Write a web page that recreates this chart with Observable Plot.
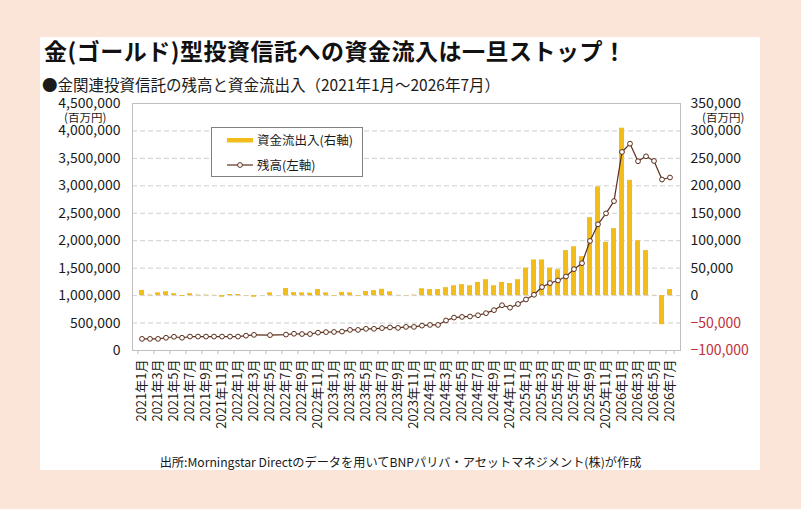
<!DOCTYPE html>
<html>
<head>
<meta charset="utf-8">
<script src="https://cdn.jsdelivr.net/npm/d3@7"></script>
<script src="https://cdn.jsdelivr.net/npm/@observablehq/plot@0.6"></script>
<style>
  html, body { margin: 0; padding: 0; }
  body {
    width: 801px; height: 509px; background: #fbe4d8; position: relative; overflow: hidden;
    font-family: "Noto Sans CJK JP", "Noto Sans", sans-serif; color: #1a1a1a;
  }
  #panel { position: absolute; left: 40px; top: 37px; width: 720px; height: 433px; background: #ffffff; }
  .abs { position: absolute; white-space: nowrap; }
  #title { left: 44px; top: 35px; font-size: 23px; line-height: 30px; font-weight: bold; letter-spacing: 0.5px; color: #111; }
  #subtitle { left: 42px; top: 76px; font-size: 15.5px; line-height: 16px; color: #1a1a1a; }
  #unitL { left: 64px; top: 111px; font-size: 11.5px; line-height: 12px; }
  #unitR { left: 702px; top: 111px; font-size: 11.5px; line-height: 12px; }
  #caption { left: 0; width: 801px; text-align: center; top: 455px; font-size: 12.2px; line-height: 14px; }
  #chart { position: absolute; left: 0; top: 90px; }
  #legend { position: absolute; left: 211px; top: 127px; width: 150px; height: 48px; border: 1px solid #808080; background: #fff; }
  .lg-item { position: absolute; left: 15px; height: 20px; font-size: 12.5px; }
  .lg-text { position: absolute; left: 30px; top: 0; line-height: 20px; white-space: nowrap; }
</style>
</head>
<body>
<div id="panel"></div>
<div id="title" class="abs">金(ゴールド)型投資信託への資金流入は一旦ストップ！</div>
<div id="subtitle" class="abs">●金関連投資信託の残高と資金流出入（2021年1月～2026年7月）</div>
<div id="chart"></div>
<div id="unitL" class="abs">(百万円)</div>
<div id="unitR" class="abs">(百万円)</div>
<div id="legend">
  <div class="lg-item" style="top:2px;">
    <svg width="28" height="20" style="position:absolute;left:0;top:0"><rect x="0" y="8" width="26" height="4.5" fill="#F2BC1B"/></svg>
    <div class="lg-text">資金流出入(右軸)</div>
  </div>
  <div class="lg-item" style="top:27px;">
    <svg width="28" height="20" style="position:absolute;left:0;top:0"><line x1="0" x2="26" y1="10" y2="10" stroke="#5c2f1c" stroke-width="1.2"/><circle cx="13" cy="10" r="2.4" fill="#fff" stroke="#5c2f1c" stroke-width="1"/></svg>
    <div class="lg-text">残高(左軸)</div>
  </div>
</div>
<div id="caption" class="abs">出所:Morningstar Directのデータを用いてBNPパリバ・アセットマネジメント(株)が作成</div>

<script>
// ---- Data (百万円) ----
const months = [
  "2021年1月","2021年2月","2021年3月","2021年4月","2021年5月","2021年6月","2021年7月","2021年8月","2021年9月","2021年10月","2021年11月","2021年12月",
  "2022年1月","2022年2月","2022年3月","2022年4月","2022年5月","2022年6月","2022年7月","2022年8月","2022年9月","2022年10月","2022年11月","2022年12月",
  "2023年1月","2023年2月","2023年3月","2023年4月","2023年5月","2023年6月","2023年7月","2023年8月","2023年9月","2023年10月","2023年11月","2023年12月",
  "2024年1月","2024年2月","2024年3月","2024年4月","2024年5月","2024年6月","2024年7月","2024年8月","2024年9月","2024年10月","2024年11月","2024年12月",
  "2025年1月","2025年2月","2025年3月","2025年4月","2025年5月","2025年6月","2025年7月","2025年8月","2025年9月","2025年10月","2025年11月","2025年12月",
  "2026年1月","2026年2月","2026年3月","2026年4月","2026年5月","2026年6月","2026年7月"
];
// 資金流出入 (right axis)
const flows = [
  9500, 1000, 5000, 7000, 3500, -1500, 3500, 1000, 1000, 500, -3000, 2000,
  2000, -500, -3000, null, 5000, null, 13000, 5500, 5000, 4500, 11000, 5000,
  -1000, 6000, 5000, -1000, 7500, 9000, 11500, 7000, 500, -500, 1000, 12500,
  11000, 11000, 14500, 18000, 20000, 18000, 24000, 29000, 18000, 24000, 22000, 29000,
  50000, 65000, 65000, 50000, 47000, 82000, 89000, 71000, 142000, 198000, 97000, 122000,
  305000, 210000, 100000, 82000, 500, -53000, 11000
];
// 残高 (left axis)
const balance = [
  212000, 212000, 212000, 232000, 250000, 232000, 254000, 254000, 254000, 254000, 254000, 254000,
  254000, 270000, 285000, null, 280000, null, 290000, 305000, 300000, 300000, 325000, 335000,
  338000, 345000, 375000, 375000, 395000, 395000, 408000, 420000, 412000, 430000, 430000, 453000,
  466000, 466000, 547000, 600000, 612000, 620000, 642000, 680000, 735000, 825000, 780000, 847000,
  930000, 1015000, 1156000, 1228000, 1276000, 1348000, 1482000, 1591000, 1996000, 2299000, 2498000, 2722000,
  3617000, 3768000, 3448000, 3538000, 3453000, 3115000, 3152000
];
const leftTicks = [0, 500000, 1000000, 1500000, 2000000, 2500000, 3000000, 3500000, 4000000, 4500000];
const rightTicks = [-100000, -50000, 0, 50000, 100000, 150000, 200000, 250000, 300000, 350000];

// map right-axis value onto left-axis scale
const toLeft = v => (v + 100000) * 10;
const fromLeft = v => v / 10 - 100000;
const fmt = d3.format(",");

const rows = months.map((m, i) => ({ month: m, flow: flows[i], bal: balance[i], idx: i }));
const flowRows = rows.filter(d => d.flow != null);
const balRows = rows.filter(d => d.bal != null);
const xLabels = months.filter((d, i) => i % 2 === 0);

const BROWN = "#5c2f1c";
const GOLD = "#F2BC1B";

const chart = Plot.plot({
  width: 801,
  height: 345,
  marginLeft: 132,
  marginRight: 121,
  marginTop: 13,
  marginBottom: 85,
  style: { fontFamily: '"Noto Sans CJK JP", "Noto Sans", sans-serif', fontSize: "14px", color: "#1a1a1a", background: "transparent" },
  x: { type: "band", domain: months, paddingInner: 0.35, paddingOuter: 0.175, label: null },
  y: { domain: [0, 4500000], label: null },
  marks: [
    Plot.ruleY(leftTicks.slice(1, -1), { stroke: "#cfcfcf", strokeDasharray: "5,3" }),
    Plot.barY(flowRows, { x: "month", y1: () => toLeft(0), y2: d => toLeft(d.flow), fill: GOLD }),
    Plot.line(balRows, { x: "month", y: "bal", stroke: BROWN, strokeWidth: 1.2 }),
    Plot.dot(balRows, { x: "month", y: "bal", r: 2.4, fill: "#fff", stroke: BROWN, strokeWidth: 1 }),
    Plot.frame({ stroke: "#bfbfbf" }),
    Plot.ruleX(xLabels, { x: d => d, y1: 0, y2: -75000, dx: -4.1, stroke: "#bfbfbf" }),
    Plot.ruleX([months[months.length - 1]], { x: d => d, y1: 0, y2: -75000, dx: 4.1, stroke: "#bfbfbf" }),
    Plot.axisY(leftTicks, { anchor: "left", tickSize: 0, tickPadding: 12, tickFormat: fmt, fontSize: 14, label: null }),
    Plot.axisY(rightTicks.filter(v => v >= 0).map(toLeft), { anchor: "right", tickSize: 0, tickPadding: 10, tickFormat: v => fmt(fromLeft(v)), fontSize: 14, label: null }),
    Plot.axisY(rightTicks.filter(v => v < 0).map(toLeft), { anchor: "right", tickSize: 0, tickPadding: 10, tickFormat: v => fmt(fromLeft(v)), fontSize: 14, fill: "#c0303a", label: null }),
    Plot.axisX(xLabels, { anchor: "bottom", tickSize: 0, tickPadding: 9, tickRotate: -90, fontSize: 13, label: null })
  ]
});
document.getElementById("chart").appendChild(chart);
</script>
</body>
</html>
